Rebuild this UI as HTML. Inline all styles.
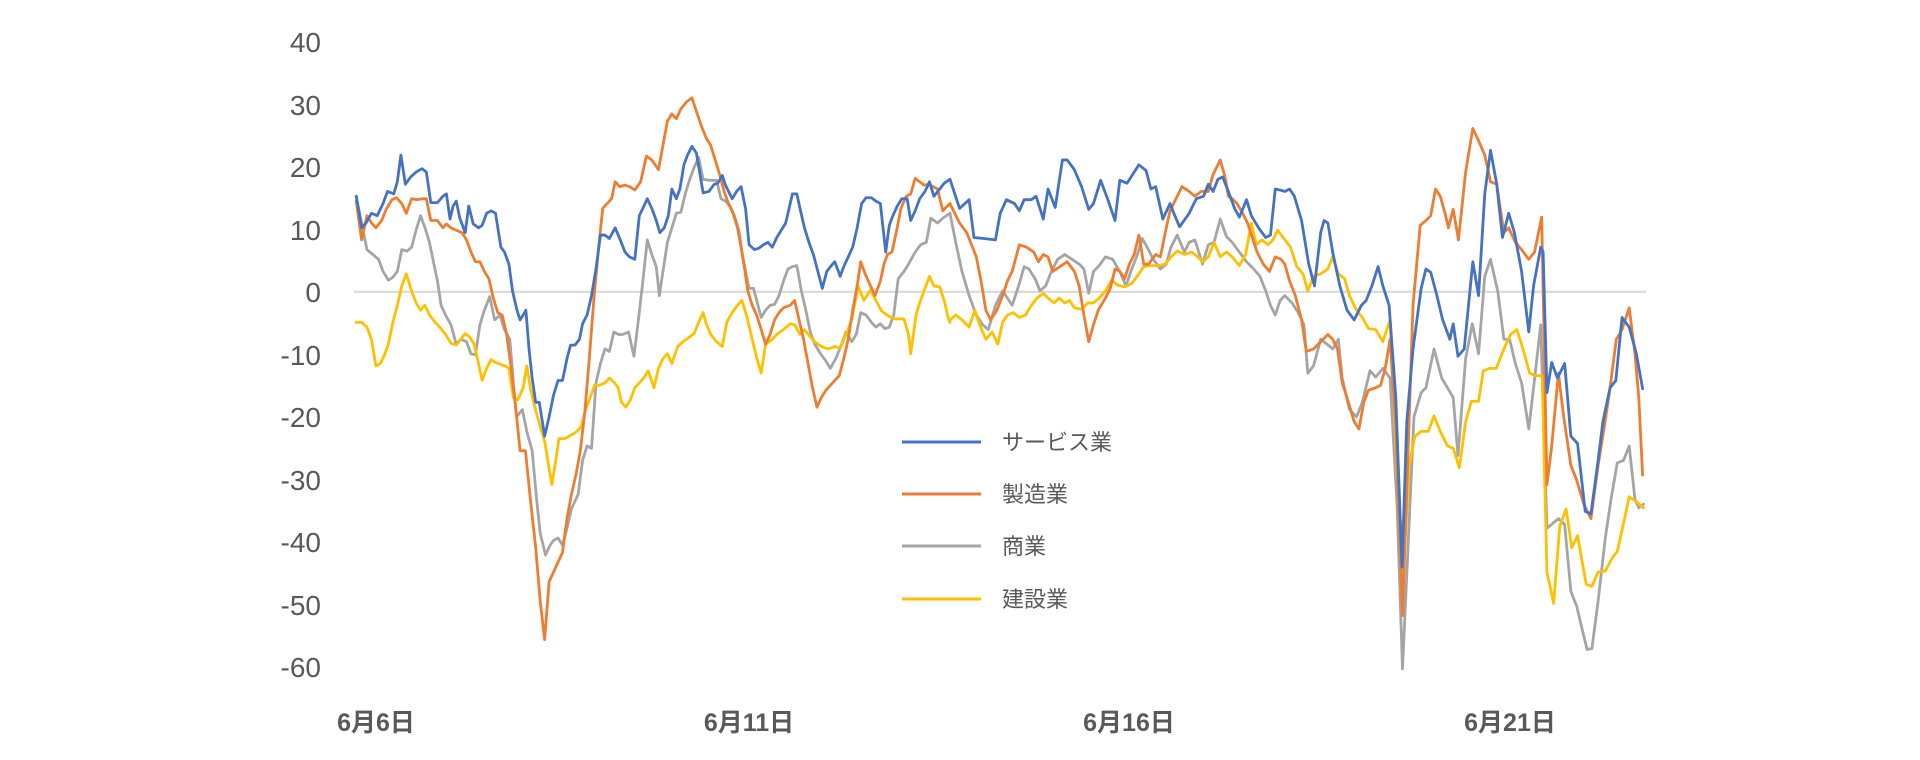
<!DOCTYPE html>
<html><head><meta charset="utf-8"><style>
html,body{margin:0;padding:0;background:#fff;}
svg{display:block;}
text{font-family:"Liberation Sans","Noto Sans CJK JP",sans-serif;fill:#595959;}
.s{fill:none;stroke-width:2.8;stroke-linejoin:round;stroke-linecap:round;}
</style></head><body>
<svg width="1920" height="760" viewBox="0 0 1920 760" xmlns="http://www.w3.org/2000/svg">
<g font-size="28" text-anchor="end">
<text x="321" y="52">40</text>
<text x="321" y="115">30</text>
<text x="321" y="177">20</text>
<text x="321" y="240">10</text>
<text x="321" y="302">0</text>
<text x="321" y="365">-10</text>
<text x="321" y="427">-20</text>
<text x="321" y="490">-30</text>
<text x="321" y="552">-40</text>
<text x="321" y="615">-50</text>
<text x="321" y="677">-60</text>
</g>
<g font-size="25" font-weight="bold" text-anchor="middle">
<text x="376" y="731">6月6日</text>
<text x="749" y="731">6月11日</text>
<text x="1129" y="731">6月16日</text>
<text x="1510" y="731">6月21日</text>
</g>
<line x1="354" y1="291.8" x2="1646" y2="291.8" stroke="#d9d9d9" stroke-width="2.2"/>

<g transform="translate(250,0) scale(0.44643,0.48469)">
<polyline class="s" vector-effect="non-scaling-stroke" stroke="#a5a5a5" points="238,405 250,460 262,515 275,525 288,535 298,560 310,578 320,572 330,560 340,515 352,518 362,510 372,475 382,445 392,470 402,500 412,545 420,580 428,630 438,650 450,670 462,710 472,700 485,705 495,730 505,732 515,670 525,640 537,612 548,660 560,650 570,680 582,700 590,790 597,860 610,845 620,890 632,930 642,1030 650,1100 662,1145 672,1125 680,1115 690,1110 700,1125 710,1090 720,1050 735,1020 745,950 755,920 765,925 775,790 785,750 795,720 805,725 815,685 825,690 835,690 848,685 860,735 870,660 880,580 890,495 900,525 910,550 917,610 925,560 935,500 945,470 955,440 965,438 975,400 985,370 995,345 1005,325 1015,370 1030,372 1045,372 1055,410 1065,415 1075,425 1085,445 1095,475 1102,520 1110,560 1118,595 1128,595 1135,620 1145,655 1155,640 1165,630 1175,628 1185,610 1195,580 1205,555 1215,550 1225,548 1235,600 1245,640 1255,685 1265,710 1278,730 1290,745 1300,760 1312,740 1322,718 1335,685 1348,705 1358,690 1368,645 1380,650 1392,665 1402,675 1412,668 1422,678 1432,675 1442,650 1452,575 1465,560 1475,545 1490,520 1502,505 1515,500 1525,450 1540,460 1552,450 1568,440"/>
<polyline class="s" vector-effect="non-scaling-stroke" stroke="#ffc000" points="238,665 250,665 262,675 272,700 282,755 292,750 300,735 310,710 320,665 330,630 340,590 350,565 362,600 372,625 382,640 392,630 402,650 415,665 425,675 438,690 450,708 462,712 472,700 482,688 492,695 502,710 512,750 520,785 530,760 540,742 550,748 562,752 572,755 580,760 590,820 600,825 612,800 620,755 628,800 638,840 650,880 660,910 668,955 676,1000 685,950 692,905 705,905 715,900 730,892 742,880 752,845 762,820 772,795 782,795 795,790 805,780 815,788 825,800 832,830 842,840 852,825 862,800 872,790 882,780 892,765 905,800 915,760 925,740 935,730 945,750 958,715 970,705 985,695 995,688 1005,665 1015,645 1022,668 1032,690 1045,705 1058,715 1068,665 1080,645 1092,630 1102,620 1112,650 1125,700 1135,738 1145,770 1155,710 1170,700 1180,690 1195,680 1210,668 1220,670 1232,690 1242,680 1255,695 1265,705 1280,715 1295,720 1310,715 1322,718 1335,690 1348,660 1362,590 1375,620 1390,598 1402,620 1415,642 1430,652 1445,658 1465,658 1475,690 1480,730 1492,650 1500,625 1510,600 1522,570 1532,590 1545,592 1555,620 1565,660 1568,665"/>
<polyline class="s" vector-effect="non-scaling-stroke" stroke="#ed7d31" points="238,415 250,495 262,445 272,460 282,470 295,455 305,432 318,412 328,408 340,420 350,440 362,410 375,412 385,410 395,410 405,455 420,455 432,470 440,462 450,470 462,475 475,480 485,495 495,520 505,540 515,540 525,560 535,575 545,615 555,645 565,650 575,690 585,760 595,840 605,930 617,930 628,1030 640,1130 650,1240 660,1320 670,1200 680,1180 690,1160 700,1140 710,1070 720,1020 730,980 740,930 750,850 760,740 770,620 780,520 790,430 800,420 810,410 818,375 828,385 840,382 850,385 862,392 875,375 888,322 900,330 915,350 925,300 935,250 945,235 955,245 965,225 978,210 990,202 1000,230 1012,262 1022,285 1032,300 1042,330 1052,360 1062,395 1072,420 1082,440 1092,470 1100,510 1108,555 1115,600 1125,630 1135,650 1145,680 1155,710 1165,690 1175,660 1185,645 1195,635 1210,630 1220,620 1230,660 1240,700 1250,750 1260,800 1270,840 1280,820 1290,805 1300,795 1310,785 1320,775 1330,740 1340,700 1350,640 1360,590 1368,540 1378,565 1390,590 1400,610 1412,580 1420,545 1428,525 1438,520 1448,478 1458,430 1470,405 1480,400 1490,368 1500,375 1510,382 1520,380 1530,385 1540,390 1552,435 1562,425 1568,420"/>
<polyline class="s" vector-effect="non-scaling-stroke" stroke="#4472c4" points="238,405 250,470 260,460 272,440 285,445 298,420 308,395 322,400 330,375 338,320 348,380 360,365 372,355 385,348 395,355 405,418 420,418 432,405 440,400 448,452 455,425 462,415 470,450 482,480 490,425 500,462 512,470 520,465 530,440 540,435 550,440 562,510 570,520 580,545 588,600 598,640 605,660 612,650 618,640 625,720 632,780 640,830 648,830 660,900 670,860 680,815 690,785 700,785 710,740 718,712 728,712 738,700 745,668 755,650 765,610 775,555 785,485 795,485 805,492 818,470 828,492 840,520 850,530 862,535 872,445 880,430 890,410 900,430 910,455 918,480 928,470 937,445 945,390 955,410 963,390 972,340 980,320 990,302 1000,316 1015,398 1028,395 1040,380 1048,378 1058,362 1065,382 1080,410 1090,395 1100,385 1110,430 1118,505 1130,515 1140,512 1150,505 1160,500 1170,510 1180,490 1190,475 1200,460 1210,420 1215,400 1225,400 1232,430 1242,470 1252,500 1262,525 1272,560 1282,595 1292,560 1302,548 1310,540 1322,570 1330,550 1340,530 1350,510 1360,470 1370,420 1380,408 1392,408 1402,415 1412,420 1424,520 1432,465 1440,445 1450,425 1460,410 1472,410 1480,455 1490,435 1500,410 1512,395 1522,375 1532,405 1545,390 1555,378 1568,370"/>
</g>

<g transform="translate(950,0) scale(0.47832,0.48469)">
<polyline class="s" vector-effect="non-scaling-stroke" stroke="#a5a5a5" points="0,440 12,500 25,560 40,610 55,650 68,670 80,680 95,630 110,600 120,615 130,630 145,585 155,550 165,555 178,575 188,600 200,590 212,560 225,535 240,525 255,535 270,545 280,555 290,605 300,560 312,548 325,530 340,535 355,560 368,590 378,560 390,530 402,492 412,510 425,535 440,555 452,545 462,510 475,485 490,520 500,500 512,495 528,545 540,505 552,500 565,452 578,488 590,500 605,520 620,540 635,555 648,570 660,600 670,630 680,650 690,620 700,610 715,625 728,645 740,670 748,770 760,755 775,700 788,710 800,720 812,700 820,780 835,845 850,860 862,830 878,765 890,778 905,760 920,780 935,1050 946,1380 958,1120 970,860 985,810 995,800 1012,720 1028,780 1040,800 1052,820 1062,940 1078,740 1092,668 1105,730 1118,570 1130,535 1145,600 1158,700 1170,700 1182,750 1195,790 1210,885 1220,800 1235,670 1248,1090 1260,1080 1272,1070 1285,1082 1298,1220 1310,1250 1322,1300 1332,1340 1342,1338 1355,1240 1370,1110 1382,1030 1395,955 1408,950 1420,920 1432,1030 1440,1048 1450,1040"/>
<polyline class="s" vector-effect="non-scaling-stroke" stroke="#ffc000" points="0,660 12,650 25,660 40,675 52,640 62,670 75,700 88,685 100,710 110,665 120,650 132,645 145,655 158,650 170,630 182,615 195,605 205,615 218,625 228,615 240,625 250,620 260,635 275,638 288,625 300,625 312,615 325,600 338,578 350,588 365,592 380,585 395,565 405,550 420,548 435,548 450,545 462,530 475,518 490,525 505,520 518,530 528,540 540,530 552,500 565,530 578,520 590,530 605,548 618,525 630,460 640,505 652,495 665,505 675,495 685,475 698,492 712,510 725,550 738,565 748,600 760,570 775,565 790,555 800,530 812,565 825,575 835,610 850,640 862,655 875,678 890,680 905,705 920,660 935,980 948,1180 960,960 972,900 985,890 1000,890 1012,858 1025,890 1040,920 1052,925 1065,965 1078,870 1090,828 1105,828 1115,765 1128,760 1142,760 1158,720 1172,690 1185,680 1198,720 1212,770 1225,775 1238,775 1248,1180 1262,1245 1275,1085 1288,1050 1300,1130 1312,1105 1330,1205 1342,1210 1355,1180 1370,1178 1385,1150 1395,1138 1408,1080 1420,1025 1435,1035 1450,1048"/>
<polyline class="s" vector-effect="non-scaling-stroke" stroke="#ed7d31" points="0,420 20,460 35,480 55,530 65,580 75,640 85,660 98,640 110,610 120,580 130,560 145,505 160,510 175,520 185,540 195,525 205,530 215,560 230,550 245,540 260,560 270,590 280,650 290,705 300,670 310,640 325,615 335,595 345,555 355,560 365,575 375,545 385,525 395,485 405,545 415,545 430,525 440,530 450,480 460,435 470,415 485,385 500,395 512,405 525,395 540,395 550,360 565,330 575,365 582,405 590,410 600,420 612,440 622,460 632,490 642,520 655,545 668,560 680,530 692,535 700,545 710,580 722,610 735,660 745,725 760,720 775,705 790,690 800,700 810,720 820,790 830,820 845,870 855,885 865,830 875,805 890,800 900,795 910,760 920,700 932,880 946,1270 958,920 968,630 983,465 995,455 1005,445 1015,390 1025,405 1035,440 1042,470 1052,432 1063,495 1078,355 1093,265 1105,290 1118,320 1130,375 1143,380 1158,480 1168,470 1182,500 1195,515 1210,535 1222,520 1237,448 1248,1000 1258,920 1272,770 1283,860 1298,960 1310,990 1325,1040 1340,1070 1355,960 1368,880 1380,800 1393,700 1405,680 1420,635 1432,730 1440,820 1448,980"/>
<polyline class="s" vector-effect="non-scaling-stroke" stroke="#4472c4" points="0,370 20,430 40,412 50,490 70,492 95,495 105,440 118,412 135,420 145,435 155,412 170,412 180,405 195,452 205,390 220,428 235,330 245,330 260,350 275,385 290,432 300,420 315,372 330,412 345,455 355,372 370,378 395,340 410,352 420,390 430,385 445,452 460,420 470,445 480,468 500,440 515,410 530,405 540,380 550,395 560,370 570,365 580,390 595,430 605,448 620,412 630,445 645,470 660,490 670,485 680,390 690,392 700,395 710,390 720,405 735,455 750,545 762,590 775,480 782,455 790,460 800,520 815,590 830,640 845,660 860,630 870,620 882,590 895,550 905,590 918,630 932,820 945,1170 955,870 968,720 985,595 995,555 1005,562 1018,610 1030,660 1045,700 1052,668 1062,735 1075,720 1093,540 1105,610 1118,400 1130,310 1143,380 1155,490 1168,440 1180,480 1195,560 1210,685 1220,590 1235,510 1240,520 1248,810 1258,748 1270,780 1285,750 1298,900 1312,915 1328,1055 1340,1060 1355,950 1365,870 1380,800 1392,785 1405,655 1420,675 1435,730 1448,802"/>
</g>

<g stroke-width="3">
<line x1="902" y1="442" x2="981" y2="442" stroke="#4472c4"/>
<line x1="902" y1="494" x2="981" y2="494" stroke="#ed7d31"/>
<line x1="902" y1="546" x2="981" y2="546" stroke="#a5a5a5"/>
<line x1="902" y1="599" x2="981" y2="599" stroke="#ffc000"/>
</g>
<g font-size="22">
<text x="1002" y="450">サービス業</text>
<text x="1002" y="502">製造業</text>
<text x="1002" y="554">商業</text>
<text x="1002" y="607">建設業</text>
</g>
</svg>
</body></html>
